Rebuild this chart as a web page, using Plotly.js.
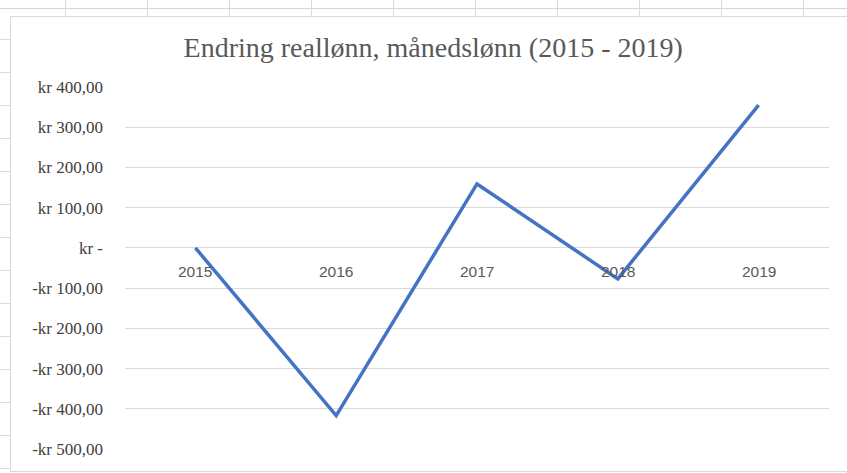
<!DOCTYPE html>
<html>
<head>
<meta charset="utf-8">
<script src="https://cdn.plot.ly/plotly-3.0.1.min.js"></script>
<style>
  html, body { margin: 0; padding: 0; background: #ffffff; }
  body { width: 847px; height: 473px; position: relative; overflow: hidden;
    background-image:
      linear-gradient(#d4d4d4, #d4d4d4),
      repeating-linear-gradient(to bottom, transparent 0px, transparent 32px, #dcdcdc 32px, #dcdcdc 33px),
      repeating-linear-gradient(to right, transparent 0px, transparent 81px, #dcdcdc 81px, #dcdcdc 82px);
    background-size: 847px 1px, 10px 473px, 847px 16px;
    background-position: 0 8px, 0 7px, -16px 0;
    background-repeat: no-repeat, no-repeat, no-repeat;
  }
  #chart { position: absolute; left: 10px; top: 16px; width: 836px; height: 454px;
    border: 1px solid #d9d9d9; background: #fff; }
</style>
</head>
<body>
<div id="chart"></div>
<script>
const years = ["2015", "2016", "2017", "2018", "2019"];
const values = [0, -417, 159, -77, 355];
const tickValues = [400, 300, 200, 100, 0, -100, -200, -300, -400, -500];
const tickLabels = ["kr 400,00", "kr 300,00", "kr 200,00", "kr 100,00", "kr -",
  "-kr 100,00", "-kr 200,00", "-kr 300,00", "-kr 400,00", "-kr 500,00"];
const titleText = "Endring reallønn, månedslønn (2015 - 2019)";

const trace = {
  type: "scatter",
  mode: "lines",
  x: years,
  y: values,
  line: { color: "#4472C4", width: 3.5 },
  hoverinfo: "skip"
};

// category labels sit next to the zero line (Excel style); x given as category index
const annotations = years.map(function (yr, i) {
  return {
    x: i, y: 0, xref: "x", yref: "y",
    text: yr, showarrow: false,
    xanchor: "center", yanchor: "middle", yshift: -24,
    font: { family: "Liberation Sans, Arial, sans-serif", size: 15.5, color: "#595959" }
  };
});

const layout = {
  width: 836, height: 454,
  margin: { l: 114, r: 18, t: 70, b: 22 },
  paper_bgcolor: "#ffffff",
  plot_bgcolor: "#ffffff",
  showlegend: false,
  title: {
    text: titleText,
    x: 0.505, xanchor: "center",
    y: 0.934, yanchor: "middle",
    font: { family: "Liberation Serif, Times New Roman, serif", size: 28, color: "#595959" }
  },
  xaxis: {
    type: "category",
    range: [-0.5, 4.5],
    showticklabels: false,
    showgrid: false,
    zeroline: false,
    showline: false,
    ticks: ""
  },
  yaxis: {
    range: [-500, 400],
    tickmode: "array",
    tickvals: tickValues,
    ticktext: tickLabels,
    showgrid: true,
    gridcolor: "#d9d9d9",
    gridwidth: 1,
    zeroline: false,
    showline: false,
    ticks: "",
    ticklabelstandoff: 21,
    tickfont: { family: "Liberation Serif, Times New Roman, serif", size: 17, color: "#404040" }
  },
  annotations: annotations
};

Plotly.newPlot("chart", [trace], layout, { staticPlot: true, displayModeBar: false });
</script>
</body>
</html>
